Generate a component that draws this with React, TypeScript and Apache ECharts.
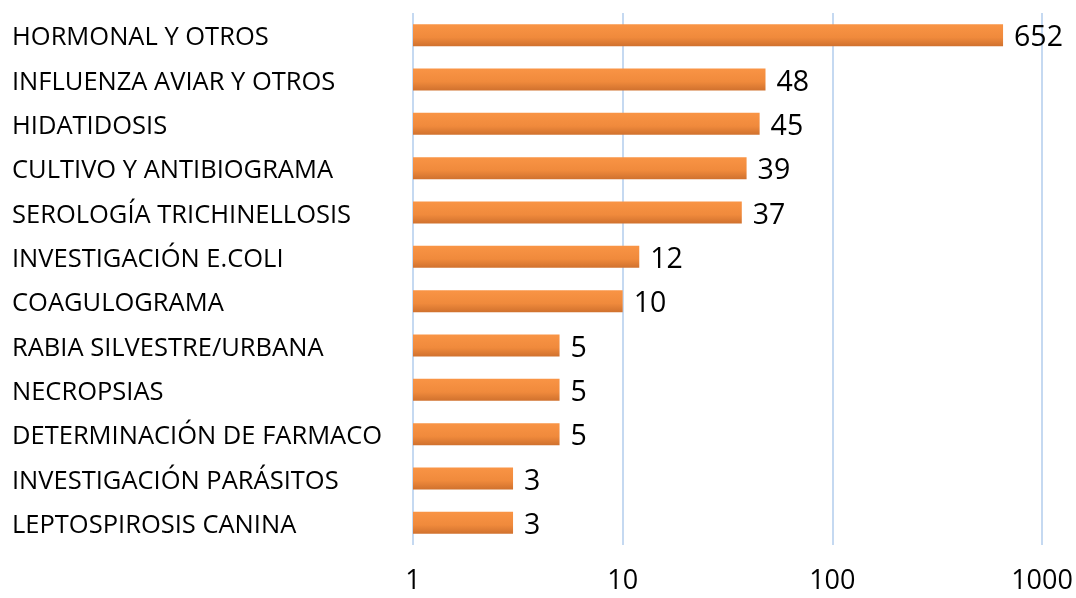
import React, { useEffect, useRef } from "react";
import * as echarts from "echarts";

const categories = [
  "HORMONAL Y OTROS",
  "INFLUENZA AVIAR Y OTROS",
  "HIDATIDOSIS",
  "CULTIVO Y ANTIBIOGRAMA",
  "SEROLOGÍA TRICHINELLOSIS",
  "INVESTIGACIÓN E.COLI",
  "COAGULOGRAMA",
  "RABIA SILVESTRE/URBANA",
  "NECROPSIAS",
  "DETERMINACIÓN DE FARMACO",
  "INVESTIGACIÓN PARÁSITOS",
  "LEPTOSPIROSIS CANINA",
];
const values = [652, 48, 45, 39, 37, 12, 10, 5, 5, 5, 3, 3];

export default function App() {
  const ref = useRef<HTMLDivElement>(null);
  useEffect(() => {
    if (!ref.current) return;
    const chart = echarts.init(ref.current, undefined, { renderer: "svg" });
    chart.setOption({
      animation: false,
      grid: { left: 413, right: 34, top: 13, bottom: 53, containLabel: false },
      xAxis: {
        type: "log",
        logBase: 10,
        min: 1,
        max: 1000,
        axisLine: { show: false },
        axisTick: { show: false },
        splitLine: { show: true, lineStyle: { color: "#C5D9F1", width: 2 } },
        axisLabel: {
          color: "#000",
          fontSize: 27,
          lineHeight: 22,
          fontFamily: "Open Sans",
          margin: 22,
          formatter: (v: number) => String(Math.round(v)),
        },
      },
      yAxis: {
        type: "category",
        inverse: true,
        data: categories,
        axisLine: { show: false },
        axisTick: { show: false },
        axisLabel: {
          align: "left",
          margin: 401,
          color: "#000",
          fontSize: 25.5,
          fontFamily: "Open Sans",
        },
      },
      series: [
        {
          type: "bar",
          data: values,
          barWidth: 22,
          itemStyle: {
            color: new echarts.graphic.LinearGradient(0, 0, 0, 1, [
              { offset: 0, color: "#F99445" },
              { offset: 0.6, color: "#F08A3C" },
              { offset: 1, color: "#D0712E" },
            ]),
          },
          label: {
            show: true,
            position: "right",
            distance: 11,
            color: "#000",
            fontSize: 28.5,
            fontFamily: "Open Sans",
          },
        },
      ],
    });
    return () => chart.dispose();
  }, []);
  return (
    <div
      ref={ref}
      style={{ position: "fixed", left: 0, top: 0, width: 1076, height: 598 }}
    />
  );
}
